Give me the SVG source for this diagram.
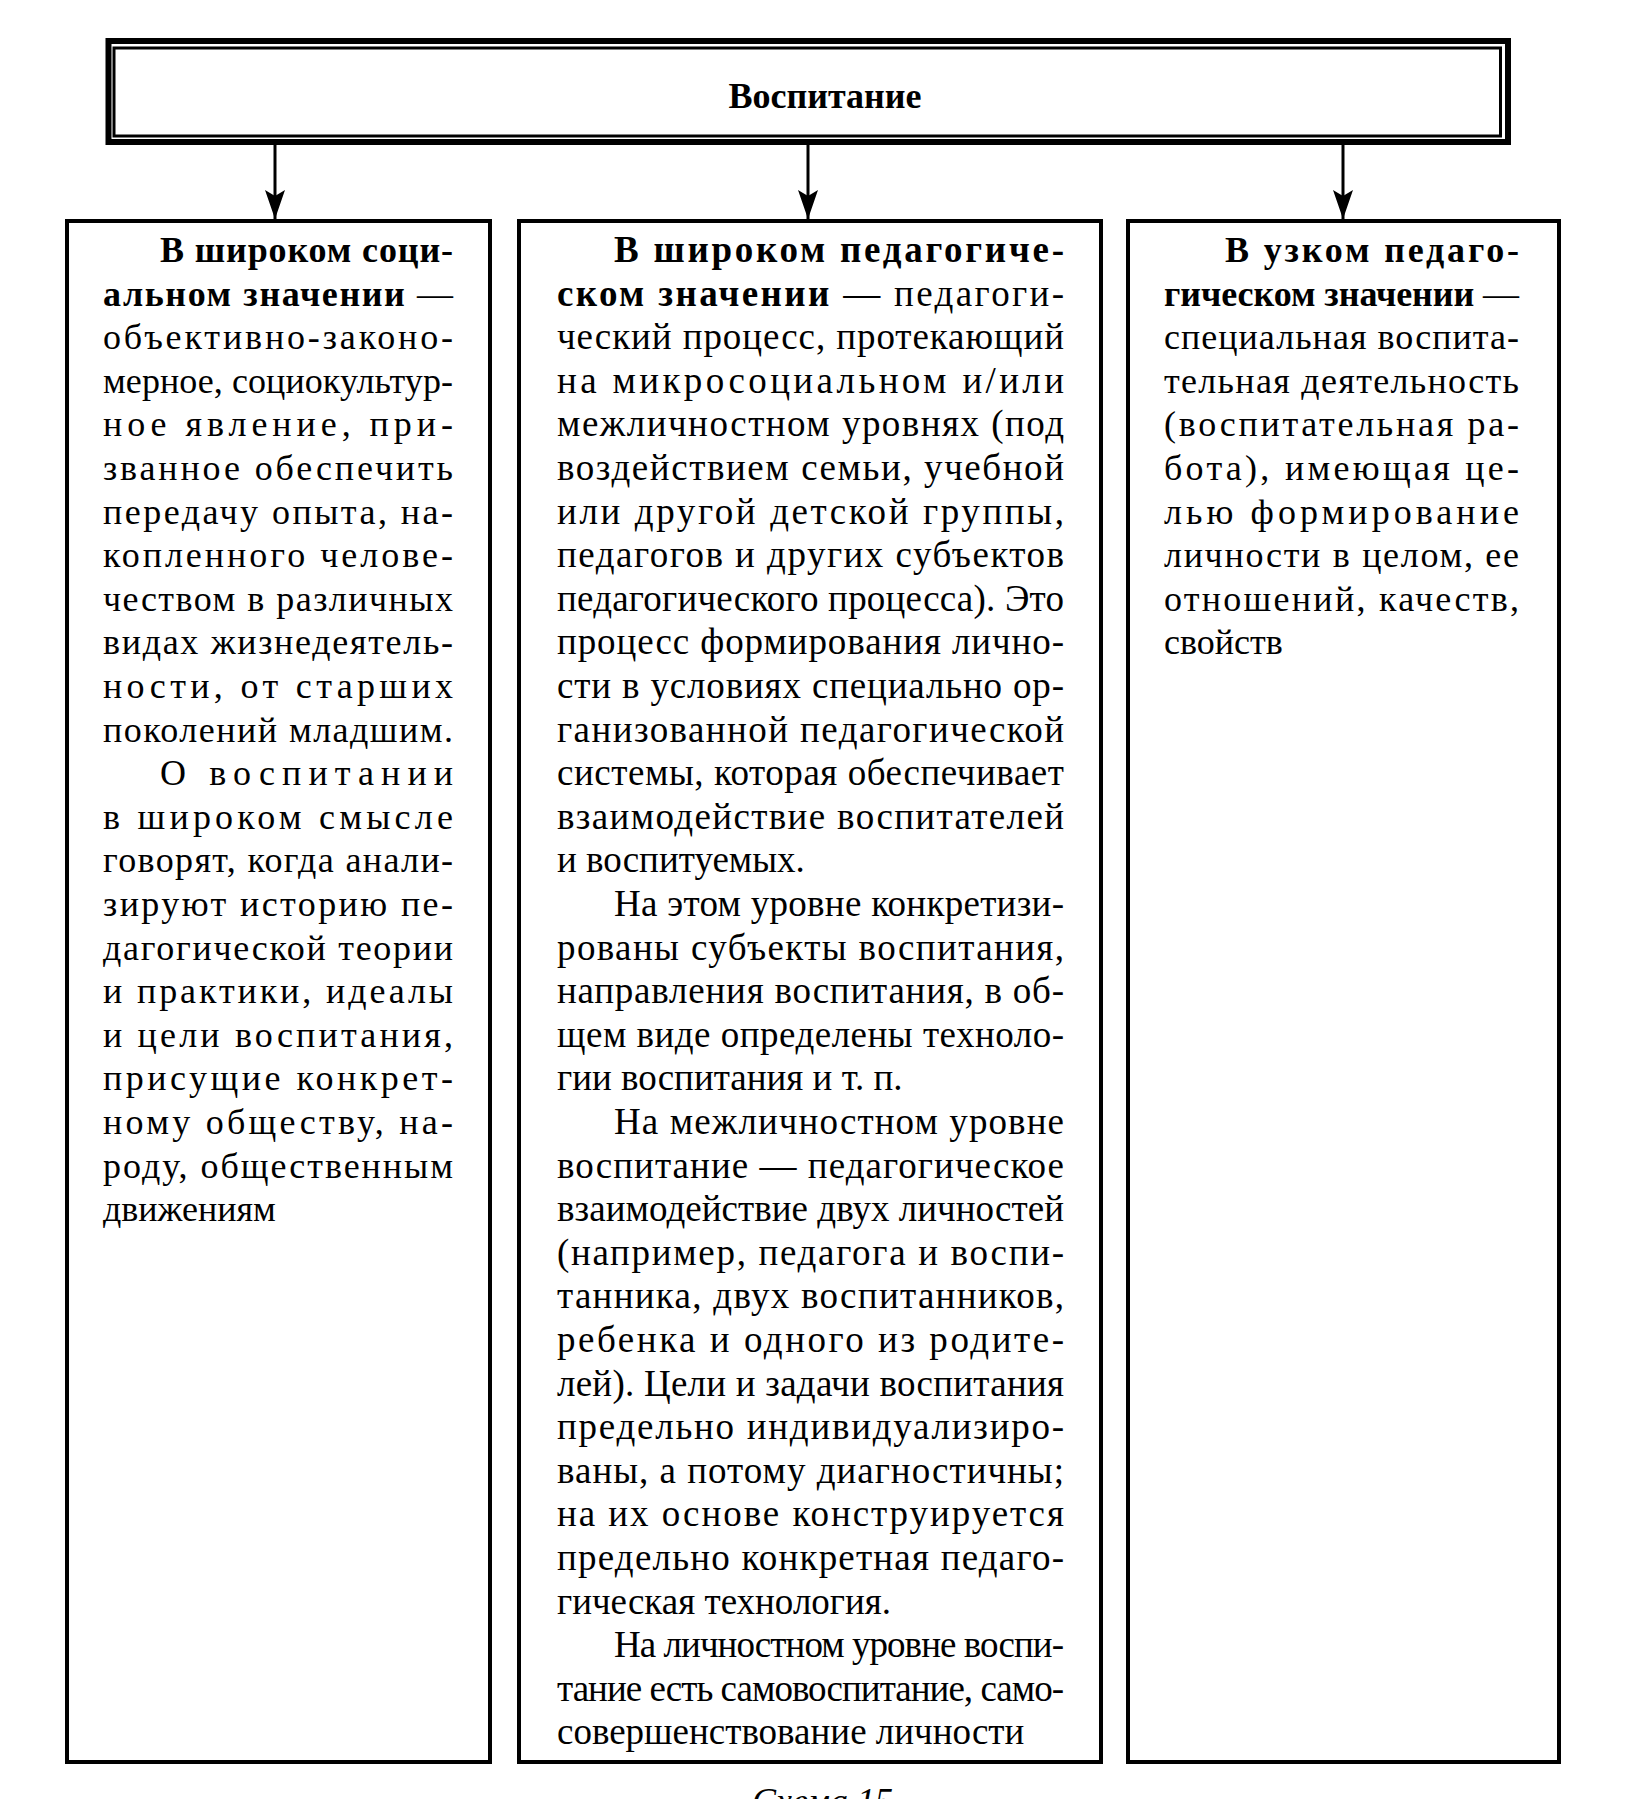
<svg xmlns="http://www.w3.org/2000/svg" width="1625" height="1799" viewBox="0 0 1625 1799">
<style>
.t{font-family:"Liberation Serif","Times New Roman",serif;font-size:36px;fill:#000}
.m{font-size:37px}
.b{font-weight:bold}
.box{fill:#fff;stroke:#000;stroke-width:4}
.conn{stroke:#000;stroke-width:3;fill:none;marker-end:url(#ah)}
</style>
<defs>
<marker id="ah" markerUnits="userSpaceOnUse" markerWidth="30" markerHeight="22" refX="29" refY="11" orient="auto" viewBox="0 0 30 22">
<path d="M0,1 L29,11 L0,21 L6,11 z" fill="#000"/>
</marker>
</defs>
<rect width="1625" height="1799" fill="#fff"/>
<g id="node-top">
<rect x="108.5" y="41" width="1399.5" height="101" fill="#fff" stroke="#000" stroke-width="6"/>
<rect x="114" y="48" width="1386.5" height="88" fill="none" stroke="#000" stroke-width="3"/>
<text class="t b" x="825" y="108" text-anchor="middle" font-size="40">Воспитание</text>
</g>
<g id="connectors">
<line class="conn" x1="275" y1="145" x2="275" y2="219"/>
<line class="conn" x1="808" y1="145" x2="808" y2="219"/>
<line class="conn" x1="1343" y1="145" x2="1343" y2="219"/>
</g>
<g id="node-left">
<rect class="box" x="67" y="221" width="423" height="1541"/>
<text class="t" x="160" y="262" textLength="293" lengthAdjust="spacing"><tspan class="b">В широком соци-</tspan></text>
<text class="t" x="103" y="305.6" textLength="350" lengthAdjust="spacing"><tspan class="b">альном значении</tspan> —</text>
<text class="t" x="103" y="349.2" textLength="350" lengthAdjust="spacing">объективно-законо-</text>
<text class="t" x="103" y="392.8" textLength="350" lengthAdjust="spacing">мерное, социокультур-</text>
<text class="t" x="103" y="436.4" textLength="350" lengthAdjust="spacing">ное явление, при-</text>
<text class="t" x="103" y="480" textLength="350" lengthAdjust="spacing">званное обеспечить</text>
<text class="t" x="103" y="523.6" textLength="350" lengthAdjust="spacing">передачу опыта, на-</text>
<text class="t" x="103" y="567.2" textLength="350" lengthAdjust="spacing">копленного челове-</text>
<text class="t" x="103" y="610.8" textLength="350" lengthAdjust="spacing">чеством в различных</text>
<text class="t" x="103" y="654.4" textLength="350" lengthAdjust="spacing">видах жизнедеятель-</text>
<text class="t" x="103" y="698" textLength="350" lengthAdjust="spacing">ности, от старших</text>
<text class="t" x="103" y="741.6" textLength="350" lengthAdjust="spacing">поколений младшим.</text>
<text class="t" x="160" y="785.2" textLength="293" lengthAdjust="spacing">О воспитании</text>
<text class="t" x="103" y="828.8" textLength="350" lengthAdjust="spacing">в широком смысле</text>
<text class="t" x="103" y="872.4" textLength="350" lengthAdjust="spacing">говорят, когда анали-</text>
<text class="t" x="103" y="916" textLength="350" lengthAdjust="spacing">зируют историю пе-</text>
<text class="t" x="103" y="959.6" textLength="350" lengthAdjust="spacing">дагогической теории</text>
<text class="t" x="103" y="1003.2" textLength="350" lengthAdjust="spacing">и практики, идеалы</text>
<text class="t" x="103" y="1046.8" textLength="350" lengthAdjust="spacing">и цели воспитания,</text>
<text class="t" x="103" y="1090.4" textLength="350" lengthAdjust="spacing">присущие конкрет-</text>
<text class="t" x="103" y="1134" textLength="350" lengthAdjust="spacing">ному обществу, на-</text>
<text class="t" x="103" y="1177.6" textLength="350" lengthAdjust="spacing">роду, общественным</text>
<text class="t" x="103" y="1221.2">движениям</text>
</g>
<g id="node-middle">
<rect class="box" x="519" y="221" width="582" height="1541"/>
<text class="t m" x="614" y="262" textLength="450" lengthAdjust="spacing"><tspan class="b">В широком педагогиче-</tspan></text>
<text class="t m" x="557" y="305.6" textLength="507" lengthAdjust="spacing"><tspan class="b">ском значении</tspan> — педагоги-</text>
<text class="t m" x="557" y="349.2" textLength="507" lengthAdjust="spacing">ческий процесс, протекающий</text>
<text class="t m" x="557" y="392.8" textLength="507" lengthAdjust="spacing">на микросоциальном и/или</text>
<text class="t m" x="557" y="436.4" textLength="507" lengthAdjust="spacing">межличностном уровнях (под</text>
<text class="t m" x="557" y="480" textLength="507" lengthAdjust="spacing">воздействием семьи, учебной</text>
<text class="t m" x="557" y="523.6" textLength="507" lengthAdjust="spacing">или другой детской группы,</text>
<text class="t m" x="557" y="567.2" textLength="507" lengthAdjust="spacing">педагогов и других субъектов</text>
<text class="t m" x="557" y="610.8" textLength="507" lengthAdjust="spacing">педагогического процесса). Это</text>
<text class="t m" x="557" y="654.4" textLength="507" lengthAdjust="spacing">процесс формирования лично-</text>
<text class="t m" x="557" y="698" textLength="507" lengthAdjust="spacing">сти в условиях специально ор-</text>
<text class="t m" x="557" y="741.6" textLength="507" lengthAdjust="spacing">ганизованной педагогической</text>
<text class="t m" x="557" y="785.2" textLength="507" lengthAdjust="spacing">системы, которая обеспечивает</text>
<text class="t m" x="557" y="828.8" textLength="507" lengthAdjust="spacing">взаимодействие воспитателей</text>
<text class="t m" x="557" y="872.4">и воспитуемых.</text>
<text class="t m" x="614" y="916" textLength="450" lengthAdjust="spacing">На этом уровне конкретизи-</text>
<text class="t m" x="557" y="959.6" textLength="507" lengthAdjust="spacing">рованы субъекты воспитания,</text>
<text class="t m" x="557" y="1003.2" textLength="507" lengthAdjust="spacing">направления воспитания, в об-</text>
<text class="t m" x="557" y="1046.8" textLength="507" lengthAdjust="spacing">щем виде определены техноло-</text>
<text class="t m" x="557" y="1090.4">гии воспитания и т. п.</text>
<text class="t m" x="614" y="1134" textLength="450" lengthAdjust="spacing">На межличностном уровне</text>
<text class="t m" x="557" y="1177.6" textLength="507" lengthAdjust="spacing">воспитание — педагогическое</text>
<text class="t m" x="557" y="1221.2" textLength="507" lengthAdjust="spacing">взаимодействие двух личностей</text>
<text class="t m" x="557" y="1264.8" textLength="507" lengthAdjust="spacing">(например, педагога и воспи-</text>
<text class="t m" x="557" y="1308.4" textLength="507" lengthAdjust="spacing">танника, двух воспитанников,</text>
<text class="t m" x="557" y="1352" textLength="507" lengthAdjust="spacing">ребенка и одного из родите-</text>
<text class="t m" x="557" y="1395.6" textLength="507" lengthAdjust="spacing">лей). Цели и задачи воспитания</text>
<text class="t m" x="557" y="1439.2" textLength="507" lengthAdjust="spacing">предельно индивидуализиро-</text>
<text class="t m" x="557" y="1482.8" textLength="507" lengthAdjust="spacing">ваны, а потому диагностичны;</text>
<text class="t m" x="557" y="1526.4" textLength="507" lengthAdjust="spacing">на их основе конструируется</text>
<text class="t m" x="557" y="1570" textLength="507" lengthAdjust="spacing">предельно конкретная педаго-</text>
<text class="t m" x="557" y="1613.6">гическая технология.</text>
<text class="t m" x="614" y="1657.2" textLength="450" lengthAdjust="spacing">На личностном уровне воспи-</text>
<text class="t m" x="557" y="1700.8" textLength="507" lengthAdjust="spacing">тание есть самовоспитание, само-</text>
<text class="t m" x="557" y="1744.4">совершенствование личности</text>
</g>
<g id="node-right">
<rect class="box" x="1128" y="221" width="431" height="1541"/>
<text class="t" x="1225" y="262" textLength="294" lengthAdjust="spacing"><tspan class="b">В узком педаго-</tspan></text>
<text class="t" x="1164" y="305.6" textLength="355" lengthAdjust="spacing"><tspan class="b">гическом значении</tspan> —</text>
<text class="t" x="1164" y="349.2" textLength="355" lengthAdjust="spacing">специальная воспита-</text>
<text class="t" x="1164" y="392.8" textLength="355" lengthAdjust="spacing">тельная деятельность</text>
<text class="t" x="1164" y="436.4" textLength="355" lengthAdjust="spacing">(воспитательная ра-</text>
<text class="t" x="1164" y="480" textLength="355" lengthAdjust="spacing">бота), имеющая це-</text>
<text class="t" x="1164" y="523.6" textLength="355" lengthAdjust="spacing">лью формирование</text>
<text class="t" x="1164" y="567.2" textLength="355" lengthAdjust="spacing">личности в целом, ее</text>
<text class="t" x="1164" y="610.8" textLength="355" lengthAdjust="spacing">отношений, качеств,</text>
<text class="t" x="1164" y="654.4">свойств</text>
</g>
<text class="t" x="752" y="1813" font-style="italic" font-size="38">Схема 15</text>
</svg>
